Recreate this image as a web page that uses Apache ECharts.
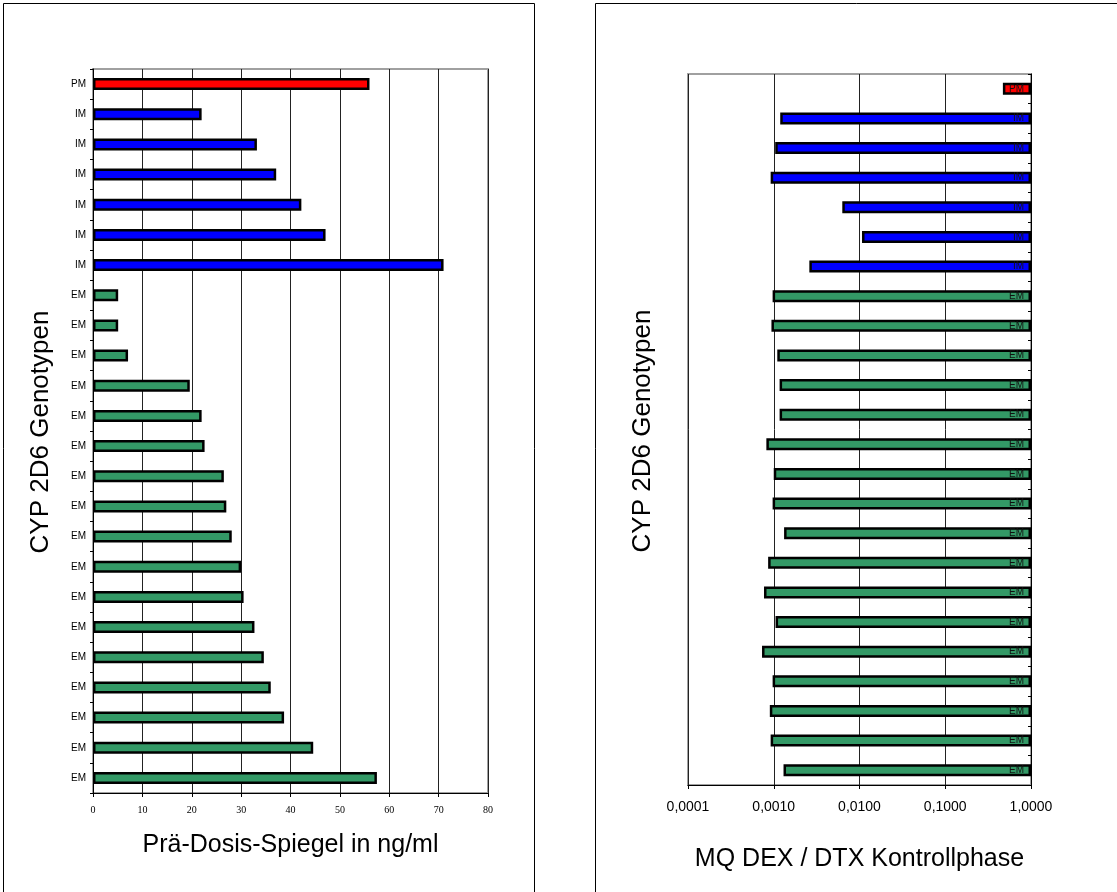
<!DOCTYPE html>
<html>
<head>
<meta charset="utf-8">
<script src="https://cdn.jsdelivr.net/npm/echarts@6/dist/echarts.min.js"></script>
<style>
  html, body { margin: 0; padding: 0; background: #ffffff; }
  #chart { width: 1117px; height: 892px; }
</style>
</head>
<body>
<div id="chart"></div>
<script>
// CYP 2D6 genotype per subject, top to bottom
const genotypes = [
  'PM',
  'IM', 'IM', 'IM', 'IM', 'IM', 'IM',
  'EM', 'EM', 'EM', 'EM', 'EM', 'EM', 'EM', 'EM', 'EM',
  'EM', 'EM', 'EM', 'EM', 'EM', 'EM', 'EM', 'EM'
];

// Pre-dose level in ng/ml
const praeDosisSpiegel = [
  56.0,
  22.0, 33.2, 37.1, 42.2, 47.1, 71.0,
  5.1, 5.1, 7.1, 19.6, 22.0, 22.6, 26.5, 27.0, 28.1,
  30.0, 30.5, 32.7, 34.6, 36.0, 38.7, 44.6, 57.5
];

// Metabolic ratio DEX / DTX, control phase
const mqDexDtx = [
  0.47,
  0.00119, 0.00104, 0.00092, 0.0063, 0.0107, 0.0026,
  0.00097, 0.00094, 0.00110, 0.00117, 0.00117, 0.00082, 0.00100, 0.00097, 0.00132,
  0.00086, 0.00077, 0.00105, 0.00073, 0.00097, 0.00090, 0.00092, 0.00130
];

// Log axis tick labels (decimal comma), from 1e-4 to 1e0
const logTickLabels = ['0,0001', '0,0010', '0,0100', '0,1000', '1,0000'];

const genotypeColors = { PM: '#ff0000', IM: '#0000ff', EM: '#339966' };

const titleFont = 'Arial, "Liberation Sans", sans-serif';

function barItems(values) {
  return values.map((v, i) => ({
    value: v,
    itemStyle: { color: genotypeColors[genotypes[i]] }
  }));
}

const chart = echarts.init(document.getElementById('chart'), null, { renderer: 'canvas' });

const option = {
  backgroundColor: '#ffffff',
  animation: false,
  textStyle: { fontFamily: titleFont },
  graphic: [
    { type: 'rect', shape: { x: 3.5, y: 3.5, width: 531, height: 930 },
      style: { fill: 'none', stroke: '#000000', lineWidth: 1 }, silent: true, z: -10 },
    { type: 'rect', shape: { x: 595.5, y: 3.5, width: 540, height: 930 },
      style: { fill: 'none', stroke: '#000000', lineWidth: 1 }, silent: true, z: -10 },
    { type: 'text', x: 41, y: 432, rotation: Math.PI / 2,
      style: { text: 'CYP 2D6 Genotypen', font: '26px ' + titleFont, fill: '#000000',
               align: 'center', verticalAlign: 'middle' } },
    { type: 'text', x: 643, y: 431, rotation: Math.PI / 2,
      style: { text: 'CYP 2D6 Genotypen', font: '26px ' + titleFont, fill: '#000000',
               align: 'center', verticalAlign: 'middle' } }
  ],
  grid: [
    { left: 93, top: 69, width: 395, height: 724, show: true,
      borderColor: '#a0a0a0', borderWidth: 2, backgroundColor: 'transparent' },
    { left: 688, top: 74, width: 343, height: 711, show: true,
      borderColor: '#a0a0a0', borderWidth: 2, backgroundColor: 'transparent' }
  ],
  xAxis: [
    {
      gridIndex: 0, type: 'value', min: 0, max: 80, interval: 10,
      name: 'Prä-Dosis-Spiegel in ng/ml', nameLocation: 'middle', nameGap: 40,
      nameTextStyle: { fontSize: 25, color: '#000000', fontFamily: titleFont },
      axisLine: { show: true, lineStyle: { color: '#000000', width: 1 } },
      axisTick: { show: true, length: 4, lineStyle: { color: '#000000' } },
      axisLabel: { fontSize: 10, color: '#000000', margin: 12,
                   fontFamily: '"Liberation Serif", "Times New Roman", serif' },
      splitLine: { show: true, lineStyle: { color: '#222222', width: 1 } }
    },
    {
      gridIndex: 1, type: 'log', logBase: 10, min: 0.0001, max: 1,
      name: 'MQ DEX / DTX Kontrollphase', nameLocation: 'middle', nameGap: 62,
      nameTextStyle: { fontSize: 25, color: '#000000', fontFamily: titleFont },
      axisLine: { show: true, lineStyle: { color: '#000000', width: 1 } },
      axisTick: { show: true, length: 4, lineStyle: { color: '#000000' } },
      axisLabel: {
        fontSize: 14, color: '#000000', margin: 15, fontFamily: titleFont,
        formatter: v => logTickLabels[Math.round(Math.log10(v)) + 4]
      },
      minorTick: { show: false },
      splitLine: { show: true, lineStyle: { color: '#222222', width: 1 } }
    }
  ],
  yAxis: [
    {
      gridIndex: 0, type: 'category', data: genotypes, inverse: true,
      axisLine: { show: true, lineStyle: { color: '#000000', width: 1 } },
      axisTick: { show: true, length: 3, lineStyle: { color: '#000000' } },
      axisLabel: { fontSize: 10, color: '#000000', margin: 7, fontFamily: titleFont },
      splitLine: { show: false }
    },
    {
      gridIndex: 1, type: 'category', data: genotypes, inverse: true, position: 'right',
      axisLine: { show: true, lineStyle: { color: '#000000', width: 1 } },
      axisTick: { show: true, inside: true, length: 3, lineStyle: { color: '#000000' } },
      axisLabel: { show: false },
      splitLine: { show: false }
    }
  ],
  series: [
    {
      type: 'bar', xAxisIndex: 0, yAxisIndex: 0,
      data: barItems(praeDosisSpiegel),
      barWidth: 12,
      itemStyle: { borderColor: '#000000', borderWidth: 2.5 }
    },
    {
      type: 'bar', xAxisIndex: 1, yAxisIndex: 1,
      data: barItems(mqDexDtx),
      barWidth: 12,
      itemStyle: { borderColor: '#000000', borderWidth: 2.5 },
      label: {
        show: true, position: 'insideRight', distance: 7,
        formatter: p => genotypes[p.dataIndex],
        fontSize: 10, color: '#111111', fontFamily: titleFont
      }
    }
  ]
};

chart.setOption(option);
</script>
</body>
</html>
